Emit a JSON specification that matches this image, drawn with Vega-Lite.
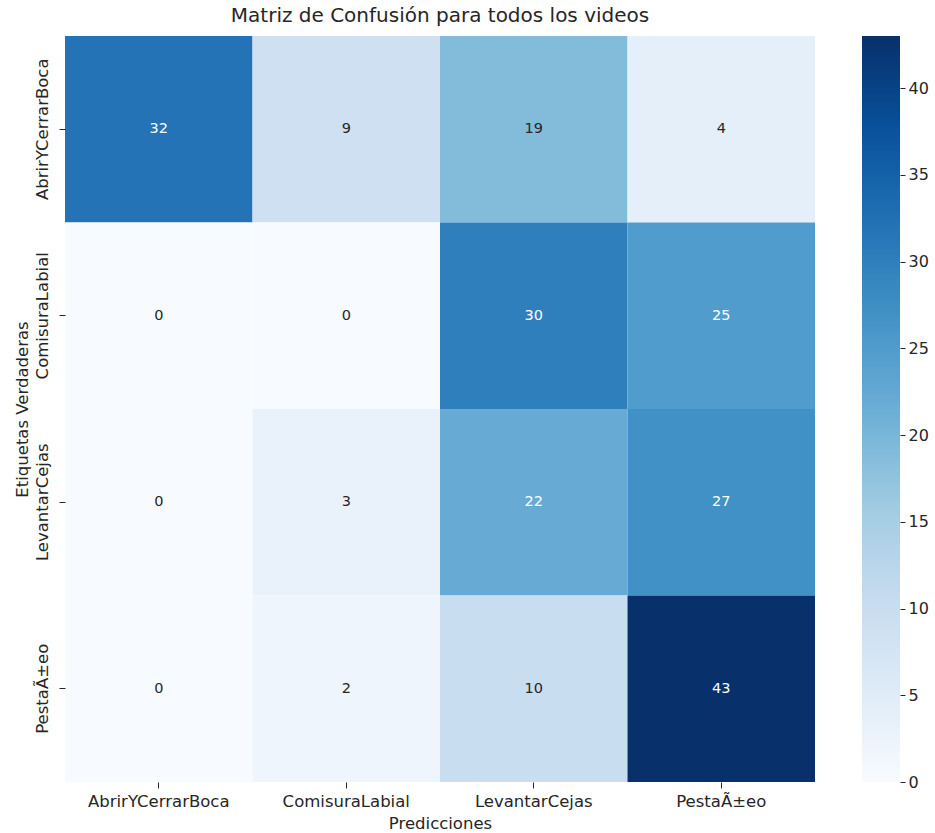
{
  "$schema": "https://vega.github.io/schema/vega-lite/v6.json",
  "width": 750,
  "height": 746,
  "autosize": "none",
  "padding": {"left": 65, "top": 36, "right": 120, "bottom": 51},
  "background": "white",
  "config": {
    "font": "DejaVu Sans",
    "view": {"stroke": null},
    "axis": {"domain": false, "grid": false, "labelFont": "DejaVu Sans", "titleFont": "DejaVu Sans", "labelColor": "#262626", "titleColor": "#262626", "tickColor": "#262626", "labelFontSize": 16.5, "titleFontSize": 16.5, "titleFontWeight": "normal", "tickSize": 6}
  },
  "title": {"text": "Matriz de Confusión para todos los videos", "fontSize": 20, "fontWeight": "normal", "font": "DejaVu Sans", "color": "#262626", "offset": 7},
  "data": {
    "values": [
      {"real": "AbrirYCerrarBoca", "pred": "AbrirYCerrarBoca", "n": 32},
      {"real": "AbrirYCerrarBoca", "pred": "ComisuraLabial", "n": 9},
      {"real": "AbrirYCerrarBoca", "pred": "LevantarCejas", "n": 19},
      {"real": "AbrirYCerrarBoca", "pred": "PestaÃ±eo", "n": 4},
      {"real": "ComisuraLabial", "pred": "AbrirYCerrarBoca", "n": 0},
      {"real": "ComisuraLabial", "pred": "ComisuraLabial", "n": 0},
      {"real": "ComisuraLabial", "pred": "LevantarCejas", "n": 30},
      {"real": "ComisuraLabial", "pred": "PestaÃ±eo", "n": 25},
      {"real": "LevantarCejas", "pred": "AbrirYCerrarBoca", "n": 0},
      {"real": "LevantarCejas", "pred": "ComisuraLabial", "n": 3},
      {"real": "LevantarCejas", "pred": "LevantarCejas", "n": 22},
      {"real": "LevantarCejas", "pred": "PestaÃ±eo", "n": 27},
      {"real": "PestaÃ±eo", "pred": "AbrirYCerrarBoca", "n": 0},
      {"real": "PestaÃ±eo", "pred": "ComisuraLabial", "n": 2},
      {"real": "PestaÃ±eo", "pred": "LevantarCejas", "n": 10},
      {"real": "PestaÃ±eo", "pred": "PestaÃ±eo", "n": 43}
    ]
  },
  "resolve": {"scale": {"y": "independent"}, "axis": {"y": "independent"}},
  "layer": [
    {
      "layer": [
        {
          "mark": {"type": "rect"},
          "encoding": {
            "color": {"field": "n", "type": "quantitative", "scale": {"domain": [0, 43], "range": ["#f7fbff", "#deebf7", "#c6dbef", "#9ecae1", "#6baed6", "#4292c6", "#2171b5", "#08519c", "#08306b"], "interpolate": "rgb"},
              "legend": {"title": null, "direction": "vertical", "orient": "none", "legendX": 797, "legendY": 0, "gradientLength": 746, "gradientThickness": 38, "gradientStrokeWidth": 0, "values": [0, 40], "labelExpr": "''", "labelOpacity": 0, "labelFontSize": 1, "padding": 0}}
          }
        },
        {
          "mark": {"type": "text", "fontSize": 14.5, "font": "DejaVu Sans"},
          "encoding": {
            "text": {"field": "n", "type": "quantitative"},
            "color": {"condition": {"test": "datum.n >= 20", "value": "white"}, "value": "#262626"}
          }
        }
      ],
      "encoding": {
        "x": {"field": "pred", "type": "nominal", "sort": ["AbrirYCerrarBoca", "ComisuraLabial", "LevantarCejas", "PestaÃ±eo"], "title": "Predicciones", "axis": {"labelAngle": 0, "labelPadding": 5, "titlePadding": 6}},
        "y": {"field": "real", "type": "nominal", "sort": ["AbrirYCerrarBoca", "ComisuraLabial", "LevantarCejas", "PestaÃ±eo"], "title": "Etiquetas Verdaderas", "axis": {"labelAngle": -90, "labelAlign": "center", "labelBaseline": "bottom", "labelPadding": 9, "titlePadding": 4}}
      }
    },
    {
      "mark": {"type": "point", "opacity": 0},
      "encoding": {
        "x": {"field": "pred", "type": "nominal", "sort": ["AbrirYCerrarBoca", "ComisuraLabial", "LevantarCejas", "PestaÃ±eo"]},
        "y": {"field": "n", "type": "quantitative", "scale": {"domain": [0, 43], "nice": false, "zero": true}, "axis": {"orient": "right", "offset": 85, "values": [0, 5, 10, 15, 20, 25, 30, 35, 40], "title": null, "tickSize": 5, "labelPadding": 3, "labelFontSize": 16, "labelBaseline": "middle"}}
      }
    }
  ]
}
